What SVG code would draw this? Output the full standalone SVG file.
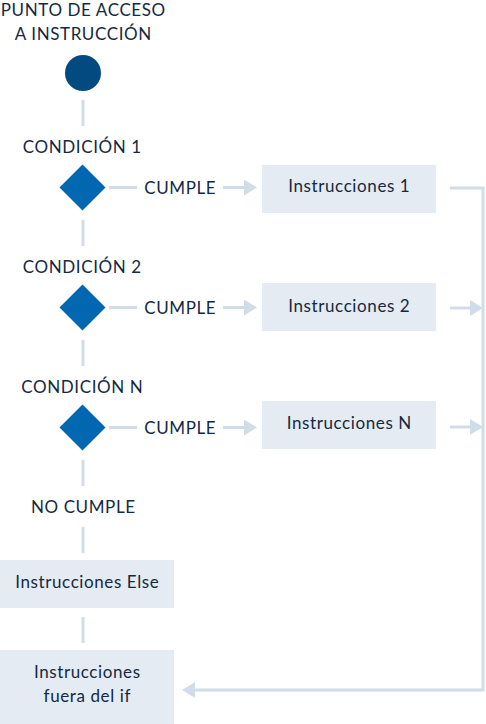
<svg xmlns="http://www.w3.org/2000/svg" width="486" height="724" viewBox="0 0 486 724">
  <defs>
    <marker id="arrow" markerUnits="userSpaceOnUse" markerWidth="13" markerHeight="16" refX="0" refY="8" orient="auto" viewBox="0 0 13 16">
      <path d="M0,0 L13,8 L0,16 z" fill="#d0dde8"/>
    </marker>
    <style>
      .t { font-family: Lato, "Open Sans", sans-serif; font-size: 17px; letter-spacing: 0.6px; fill: #15293f; text-anchor: middle; }
      .bt { font-family: Lato, "Open Sans", sans-serif; font-size: 17px; letter-spacing: 0.6px; fill: #15293f; text-anchor: middle; }
      .box { fill: #e4ebf2; }
      .dia { fill: #0067b0; }
      .ln { stroke: #d0dde8; stroke-width: 3; fill: none; }
      .ar { stroke: #d0dde8; stroke-width: 3; fill: none; marker-end: url(#arrow); }
    </style>
  </defs>

  <g id="connectors">
    <line class="ln" x1="83" y1="100" x2="83" y2="126"/>
    <line class="ln" x1="83" y1="220" x2="83" y2="246"/>
    <line class="ln" x1="83" y1="340" x2="83" y2="366"/>
    <line class="ln" x1="83" y1="460" x2="83" y2="486"/>
    <line class="ln" x1="83" y1="527" x2="83" y2="553"/>
    <line class="ln" x1="83" y1="617" x2="83" y2="643"/>

    <line class="ln" x1="109" y1="187.5" x2="137" y2="187.5"/>
    <line class="ar" x1="223" y1="187.5" x2="244" y2="187.5"/>
    <line class="ln" x1="109" y1="307.5" x2="137" y2="307.5"/>
    <line class="ar" x1="223" y1="307.5" x2="244" y2="307.5"/>
    <line class="ln" x1="109" y1="427.5" x2="137" y2="427.5"/>
    <line class="ar" x1="223" y1="427.5" x2="244" y2="427.5"/>

    <polyline class="ar" points="450,188 483,188 483,690 195,690"/>
    <line class="ar" x1="450" y1="308" x2="470" y2="308"/>
    <line class="ar" x1="450" y1="427" x2="470" y2="427"/>
  </g>

  <g id="start">
    <text class="t" x="83.3" y="16">PUNTO DE ACCESO</text>
    <text class="t" x="83.3" y="40">A INSTRUCCIÓN</text>
    <circle cx="83" cy="73" r="18" fill="#024a7f"/>
  </g>

  <g id="cond1">
    <text class="t" x="82.3" y="152.5">CONDICIÓN 1</text>
    <polygon class="dia" points="82.5,164.5 105.5,187.5 82.5,210.5 59.5,187.5"/>
  </g>
  <g id="cumple1"><text class="t" x="180.3" y="193.5">CUMPLE</text></g>
  <g id="instr1">
    <rect class="box" x="262" y="165" width="174" height="48"/>
    <text class="bt" x="349.3" y="192">Instrucciones 1</text>
  </g>

  <g id="cond2">
    <text class="t" x="82.3" y="272.5">CONDICIÓN 2</text>
    <polygon class="dia" points="82.5,284.5 105.5,307.5 82.5,330.5 59.5,307.5"/>
  </g>
  <g id="cumple2"><text class="t" x="180.3" y="313.5">CUMPLE</text></g>
  <g id="instr2">
    <rect class="box" x="262" y="283" width="174" height="48"/>
    <text class="bt" x="349.3" y="311.5">Instrucciones 2</text>
  </g>

  <g id="condN">
    <text class="t" x="82.3" y="392.5">CONDICIÓN N</text>
    <polygon class="dia" points="82.5,404.5 105.5,427.5 82.5,450.5 59.5,427.5"/>
  </g>
  <g id="cumpleN"><text class="t" x="180.3" y="433.5">CUMPLE</text></g>
  <g id="instrN">
    <rect class="box" x="262" y="401" width="174" height="48"/>
    <text class="bt" x="349.3" y="428.5">Instrucciones N</text>
  </g>

  <g id="nocumple"><text class="t" x="83.3" y="513">NO CUMPLE</text></g>

  <g id="else">
    <rect class="box" x="0" y="560" width="174" height="48"/>
    <text class="bt" x="87.3" y="588">Instrucciones Else</text>
  </g>

  <g id="fuera">
    <rect class="box" x="0" y="650" width="174" height="74"/>
    <text class="bt" x="87.3" y="678">Instrucciones</text>
    <text class="bt" x="87.3" y="702">fuera del if</text>
  </g>
</svg>
